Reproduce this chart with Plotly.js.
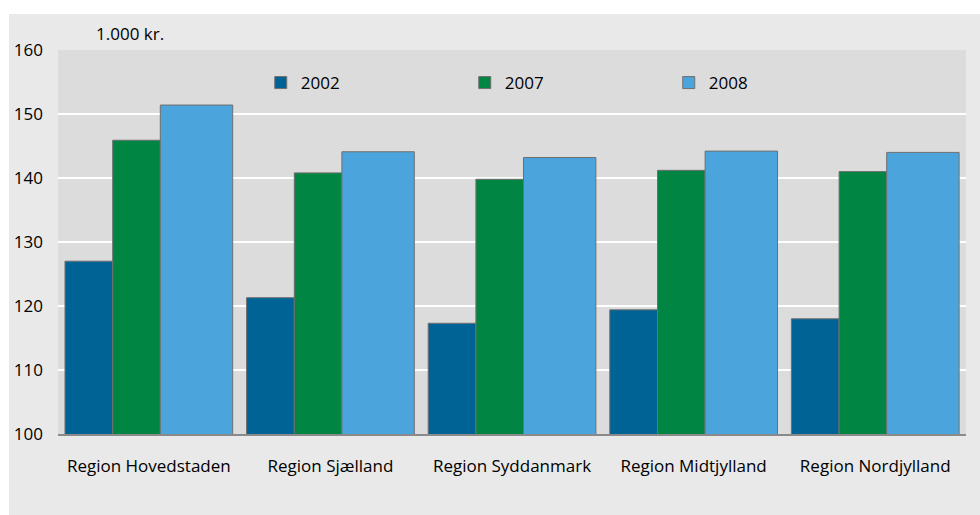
<!DOCTYPE html>
<html>
<head>
<meta charset="utf-8">
<script src="https://cdn.plot.ly/plotly-3.0.1.min.js"></script>
<style>html,body{margin:0;padding:0;background:#fff;}#chart{width:980px;height:515px;}</style>
</head>
<body>
<div id="chart"></div>
<script>
const categories = ['Region Hovedstaden', 'Region Sjælland', 'Region Syddanmark', 'Region Midtjylland', 'Region Nordjylland'];
const seriesNames = ['2002', '2007', '2008'];
const v2002 = [127.0, 121.3, 117.3, 119.4, 118.0];
const v2007 = [145.9, 140.8, 139.8, 141.2, 141.0];
const v2008 = [151.4, 144.1, 143.2, 144.2, 144.0];
const yTicks = [100, 110, 120, 130, 140, 150, 160];
const unitLabel = '1.000 kr.';

const colors = ['#006396', '#008542', '#4ba4dc'];
const offsets = [-0.4615, -0.1988, 0.0633];
const widths = [0.2627, 0.2621, 0.3987];
const values = [v2002, v2007, v2008];
const xIdx = categories.map((c, i) => i);

const traces = values.map((vals, k) => ({
  type: 'bar',
  name: seriesNames[k],
  x: xIdx,
  y: vals,
  offset: offsets[k],
  width: widths[k],
  marker: {color: colors[k], line: {color: '#6f6f6f', width: 1}},
  hoverinfo: 'x+y'
}));

const layout = {
  width: 980, height: 515,
  margin: {l: 58, r: 14, t: 50, b: 81},
  paper_bgcolor: '#ffffff',
  plot_bgcolor: 'rgba(0,0,0,0)',
  barmode: 'overlay',
  font: {family: '"Open Sans", sans-serif', size: 17, color: '#000000'},
  showlegend: true,
  legend: {
    orientation: 'h', x: 0.2233, y: 0.914, xanchor: 'left', yanchor: 'middle',
    bgcolor: 'rgba(0,0,0,0)', font: {size: 17, color: '#000000'},
    entrywidth: 159, entrywidthmode: 'pixels', traceorder: 'normal'
  },
  xaxis: {
    type: 'linear', range: [-0.5, 4.5],
    tickvals: xIdx, ticktext: categories,
    showgrid: false, zeroline: false,
    showline: true, linecolor: '#8a8a8a', linewidth: 1.5,
    ticks: '', ticklabelstandoff: 16,
    tickfont: {size: 17, color: '#000000'}
  },
  yaxis: {
    range: [100, 160], tickvals: yTicks,
    showgrid: true, gridcolor: '#ffffff', gridwidth: 2,
    zeroline: false, showline: false, ticks: '',
    ticklabelstandoff: 14,
    tickfont: {size: 17, color: '#000000'}
  },
  shapes: [
    {type: 'rect', xref: 'paper', yref: 'paper', x0: -0.054, x1: 1.05, y0: -0.3, y1: 1.0938,
     fillcolor: '#e9e9e9', line: {width: 0}, layer: 'below'},
    {type: 'rect', xref: 'paper', yref: 'paper', x0: 0, x1: 1, y0: 0, y1: 1,
     fillcolor: '#dcdcdc', line: {width: 0}, layer: 'below'}
  ],
  annotations: [
    {text: unitLabel, xref: 'paper', yref: 'paper', x: (94 - 58) / 908, y: (434 - 34) / 384,
     xanchor: 'left', yanchor: 'middle', showarrow: false, font: {size: 17, color: '#000000'}}
  ]
};

Plotly.newPlot('chart', traces, layout, {displayModeBar: false, staticPlot: true});
</script>
</body>
</html>
